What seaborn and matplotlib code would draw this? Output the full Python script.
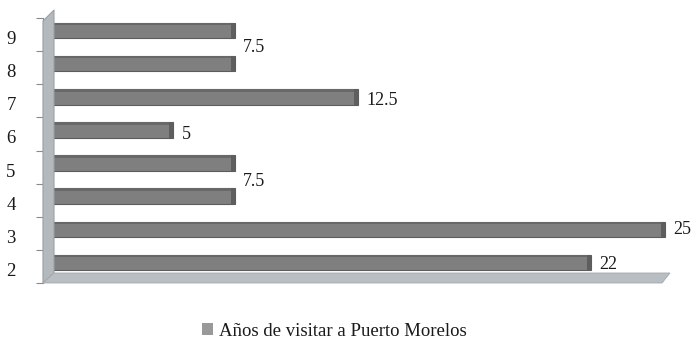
import matplotlib
matplotlib.use("Agg")
import matplotlib.pyplot as plt
from matplotlib.patches import Polygon, Rectangle, Patch
from matplotlib.ticker import FixedLocator
from matplotlib.transforms import ScaledTranslation
import seaborn as sns
import pandas as pd

# Years of visiting Puerto Morelos (share of respondents)
categories = ["9", "8", "7", "6", "5", "4", "3", "2"]
values = [7.5, 7.5, 12.5, 5, 7.5, 7.5, 25, 22]
labelled = ["9", "7", "6", "5", "3", "2"]
series_name = "Años de visitar a Puerto Morelos"

df = pd.DataFrame({"anios": categories, "porcentaje": values})

sns.set_style("white")
plt.rcParams["font.family"] = ["Liberation Serif", "DejaVu Serif"]

W, H = 692, 343
fig = plt.figure(figsize=(W / 100, H / 100), dpi=100)

def fx(px):
    return px / W

def fy(py):
    return 1 - py / H

# axes box in pixel terms: x 43..670, y 18..283
ax = fig.add_axes([fx(43), fy(283), fx(670) - fx(43), fy(18) - fy(283)])

# pseudo-3D back wall and floor
wall = Polygon([(fx(43), fy(283)), (fx(43), fy(21)), (fx(54), fy(10)), (fx(54), fy(273))],
               closed=True, transform=fig.transFigure, facecolor="#b4b9be",
               edgecolor="#9aa0a6", lw=0.8, zorder=0)
floor = Polygon([(fx(43), fy(283)), (fx(662), fy(283)), (fx(670), fy(273)), (fx(54), fy(273))],
                closed=True, transform=fig.transFigure, facecolor="#b9bec3",
                edgecolor="#a3a9ae", lw=0.6, zorder=0)
fig.patches.extend([wall, floor])
ax.set_facecolor("none")

sns.barplot(data=df, y="anios", x="porcentaje", order=categories, orient="h",
            color="#7f7f7f", width=0.47, saturation=1, edgecolor="#5c5c5c",
            linewidth=0.8, ax=ax, zorder=3)

ppu = 24.57  # pixels per percentage unit
x0 = -(50.5 - 43) / ppu
ax.set_xlim(x0, x0 + (670 - 43) / ppu)
shift = 0.12
ax.set_ylim(len(categories) - 0.5 + shift, -0.5 + shift)

# darker end caps and top shading on each bar
for p in ax.patches:
    x, y = p.get_x(), p.get_y()
    w, h = p.get_width(), p.get_height()
    cap = 4 / ppu
    ax.add_patch(Rectangle((x + w - cap, y), cap, h, facecolor="#5e5e5e",
                           edgecolor="none", zorder=4))
    ax.add_patch(Rectangle((x, y), w - cap, h * 0.16, facecolor="#686868",
                           edgecolor="none", zorder=4))

# value labels
nudges = {"9": 0.5, "7": 0.12, "6": 0.15, "5": 0.55, "3": 0.0, "2": 0.06}
for i, (c, v) in enumerate(zip(categories, values)):
    if c in labelled:
        txt = f"{v:g}"
        ax.annotate(txt, (v, i + nudges[c]), xytext=(6, 0), textcoords="offset points",
                    ha="left", va="center", fontsize=13, color="#1a1a1a", zorder=5)

# axes styling
for s in ["top", "right", "bottom"]:
    ax.spines[s].set_visible(False)
ax.spines["left"].set_color("#8a8a8a")
ax.spines["left"].set_linewidth(0.8)
ax.set_xticks([])
ax.set_xlabel("")
ax.set_ylabel("")
ax.tick_params(axis="y", which="major", length=0, pad=23, labelsize=13.5, labelcolor="#1a1a1a")
ax.tick_params(axis="y", which="minor", length=5, width=0.8, color="#8a8a8a", left=True)
ax.yaxis.set_minor_locator(FixedLocator([k - 0.5 + shift for k in range(len(categories) + 1)]))
for lbl in ax.get_yticklabels():
    lbl.set_horizontalalignment("center")
    lbl.set_transform(lbl.get_transform() + ScaledTranslation(0, -7 / 100, fig.dpi_scale_trans))

handle = Patch(facecolor="#999999", edgecolor="none")
fig.legend([handle], [series_name], loc="center", bbox_to_anchor=(0.483, fy(331)),
           frameon=False, fontsize=13.5, handlelength=0.6, handleheight=0.6,
           handletextpad=0.3, labelcolor="#1a1a1a")

fig.savefig("out.png", dpi=100)
